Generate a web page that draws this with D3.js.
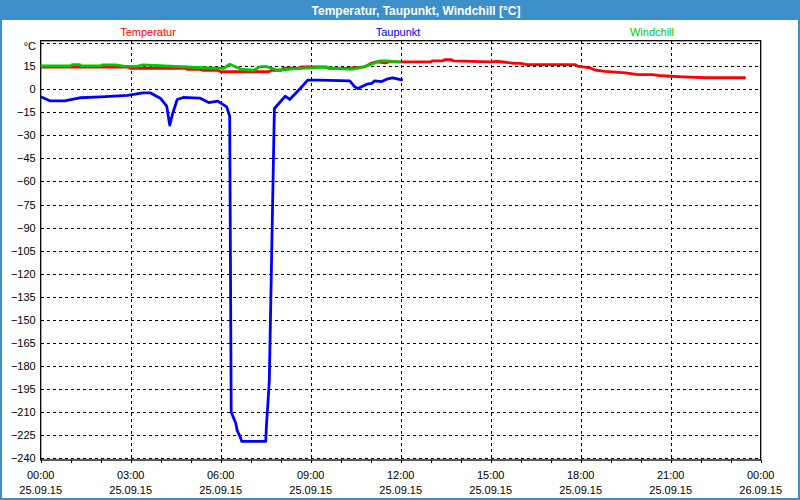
<!DOCTYPE html>
<html><head><meta charset="utf-8">
<script src="https://cdn.jsdelivr.net/npm/d3@7"></script>
<style>body{margin:0;background:#fff}svg{display:block}text{font-family:"Liberation Sans",Arial,sans-serif}</style>
</head><body><svg id="c" width="800" height="500"></svg>
<script>
// hours since 25.09.15 00:00 and values in °C
const tempHours = [0,2.9,3.0,3.4,4.8,4.9,5.3,5.4,5.9,6.0,7.6,7.7,8.0,8.1,8.6,8.7,9.5,9.6,10.2,10.8,11.0,11.2,11.5,11.6,12.0,13.0,13.05,13.4,13.45,13.7,13.75,15.0,15.2,15.5,15.8,16.0,16.2,17.8,17.9,18.3,18.5,18.8,19.5,19.9,20.4,20.7,21.4,22.2,23.0,23.5];
const tempValues = [14.3,14.3,13.6,13.6,13.6,12.8,12.8,12.3,12.3,11.3,11.3,12.3,12.3,13.6,13.6,14.5,14.5,13.5,13.5,14.5,16.7,17.8,17.1,17.7,17.7,17.7,18.4,18.4,19.1,19.1,18.4,17.7,18.0,17.5,16.7,16.7,16.0,16.0,15.0,13.9,12.3,11.5,10.6,9.5,9.5,8.7,8.0,7.4,7.4,7.4];
const dewHours = [0,0.3,0.8,1.3,2.0,2.9,3.4,3.65,4.0,4.2,4.3,4.4,4.55,4.75,5.3,5.6,5.9,6.2,6.3,6.35,6.5,6.55,6.65,6.7,7.5,7.53,7.57,7.62,7.79,8.15,8.3,8.65,8.9,9.3,10.3,10.47,10.57,10.87,11.03,11.13,11.37,11.53,11.73,12.07];
const dewValues = [-5,-7.6,-7.6,-5.6,-5,-4.1,-2.4,-2.4,-6.1,-11,-23.4,-15.8,-6.7,-5.4,-5.8,-8.7,-7.8,-11.5,-17.6,-210,-217,-222,-226,-229,-229,-217,-205.5,-189.6,-12.6,-4.6,-6.7,0.4,5.9,5.9,5.4,1.5,0.4,3.2,3.7,5.4,4.9,6.5,7.4,5.9];
const windHours = [0,1.0,1.05,1.3,1.35,2.0,2.05,2.5,2.8,3.2,3.4,5.8,6.1,6.3,6.7,7.1,7.3,7.5,7.9,8.4,9.3,9.5,10.2,10.4,10.75,11.1,11.3,11.55,12.0];
const windValues = [15.1,15.1,16.0,16.0,15.1,15.1,15.8,15.8,14.8,14.8,15.8,13.6,13.6,16.2,12.8,12.3,14.5,14.8,12.3,13.2,14.1,14.1,13.0,13.0,14.5,16.7,18.4,18.4,17.6];
const seriesNames = ["Temperatur","Taupunkt","Windchill"];
const seriesColors = ["#ff0000","#0000ff","#00c800"];
const yTickValues = [15,0,-15,-30,-45,-60,-75,-90,-105,-120,-135,-150,-165,-180,-195,-210,-225,-240];
const titleText = "Temperatur, Taupunkt, Windchill [°C]";

const svg = d3.select("#c");
const base = new Date(2015,8,25,0,0,0);
const toDate = h => new Date(base.getTime() + h*3600000);
const L=40.7, R=760.7, T=40.7, B=460;
const x = d3.scaleTime().domain([base, toDate(24)]).range([L,R]);
const y = d3.scaleLinear().domain([-241.1, 31.5]).range([B,T]);

// frame
svg.append("rect").attr("x",0).attr("y",0).attr("width",800).attr("height",500).attr("fill","#3c8fc8");
svg.append("rect").attr("x",2).attr("y",20).attr("width",796).attr("height",478).attr("fill","#fff");
svg.append("text").attr("x",416).attr("y",15).attr("text-anchor","middle").attr("fill","#fff")
  .attr("font-size",12).attr("font-weight","bold").text(titleText);

// grid
const g = svg.append("g");
const hLines = yTickValues.concat([30]);
g.selectAll("line.h").data(hLines).join("line")
  .attr("x1",L).attr("x2",R).attr("y1",d=>Math.round(y(d))+0.5).attr("y2",d=>Math.round(y(d))+0.5)
  .attr("stroke","#000").attr("stroke-dasharray","3,3").attr("shape-rendering","crispEdges");
const vTicks = d3.range(3,24,3).map(toDate);
g.selectAll("line.v").data(vTicks).join("line")
  .attr("x1",d=>Math.round(x(d))+0.5).attr("x2",d=>Math.round(x(d))+0.5).attr("y1",T).attr("y2",B)
  .attr("stroke","#000").attr("stroke-dasharray","3,3").attr("shape-rendering","crispEdges");

// x axis
const xAxis = d3.axisBottom(x).ticks(d3.timeHour.every(1)).tickSize(3).tickFormat("");
const xa = svg.append("g").attr("transform",`translate(0,${B})`).call(xAxis);
xa.select(".domain").remove();
xa.selectAll("line").attr("shape-rendering","crispEdges");
const labTicks = d3.range(0,25,3).map(toDate);
const fT = d3.timeFormat("%H:%M"), fD = d3.timeFormat("%d.%m.%y");
svg.append("g").selectAll("text").data(labTicks).join("text")
  .attr("x",d=>x(d)).attr("y",479).attr("text-anchor","middle").attr("font-size",11).text(fT);
svg.append("g").selectAll("text").data(labTicks).join("text")
  .attr("x",d=>x(d)).attr("y",494).attr("text-anchor","middle").attr("font-size",11).text(fD);

// y axis labels
const yAxis = d3.axisLeft(y).tickValues(yTickValues).tickSize(0).tickPadding(5);
const ya = svg.append("g").attr("transform",`translate(${L},0)`).call(yAxis);
ya.select(".domain").remove();
ya.selectAll("text").attr("font-size",11).attr("font-family","Liberation Sans, Arial, sans-serif").attr("fill","#000");
svg.append("text").attr("x",36).attr("y",50).attr("text-anchor","end").attr("font-size",11).text("°C");

// border
svg.append("rect").attr("x",L).attr("y",T).attr("width",R-L).attr("height",B-T)
  .attr("fill","none").attr("stroke","#000").attr("stroke-width",1.3);

// legend
const legX = [148,398,652];
svg.append("g").selectAll("text").data(seriesNames).join("text")
  .attr("x",(d,i)=>legX[i]).attr("y",36).attr("text-anchor","middle").attr("font-size",11)
  .attr("fill",(d,i)=>seriesColors[i]).text(d=>d);

// lines
const line = d3.line().x(d=>x(toDate(d[0]))).y(d=>y(d[1]));
const series = [
  tempHours.map((h,i)=>[h,tempValues[i]]),
  dewHours.map((h,i)=>[h,dewValues[i]]),
  windHours.map((h,i)=>[h,windValues[i]])
];
series.forEach((s,i)=>{
  svg.append("path").datum(s).attr("d",line).attr("fill","none")
    .attr("stroke",seriesColors[i]).attr("stroke-width",2.8).attr("stroke-linejoin","round");
});
</script></body></html>
